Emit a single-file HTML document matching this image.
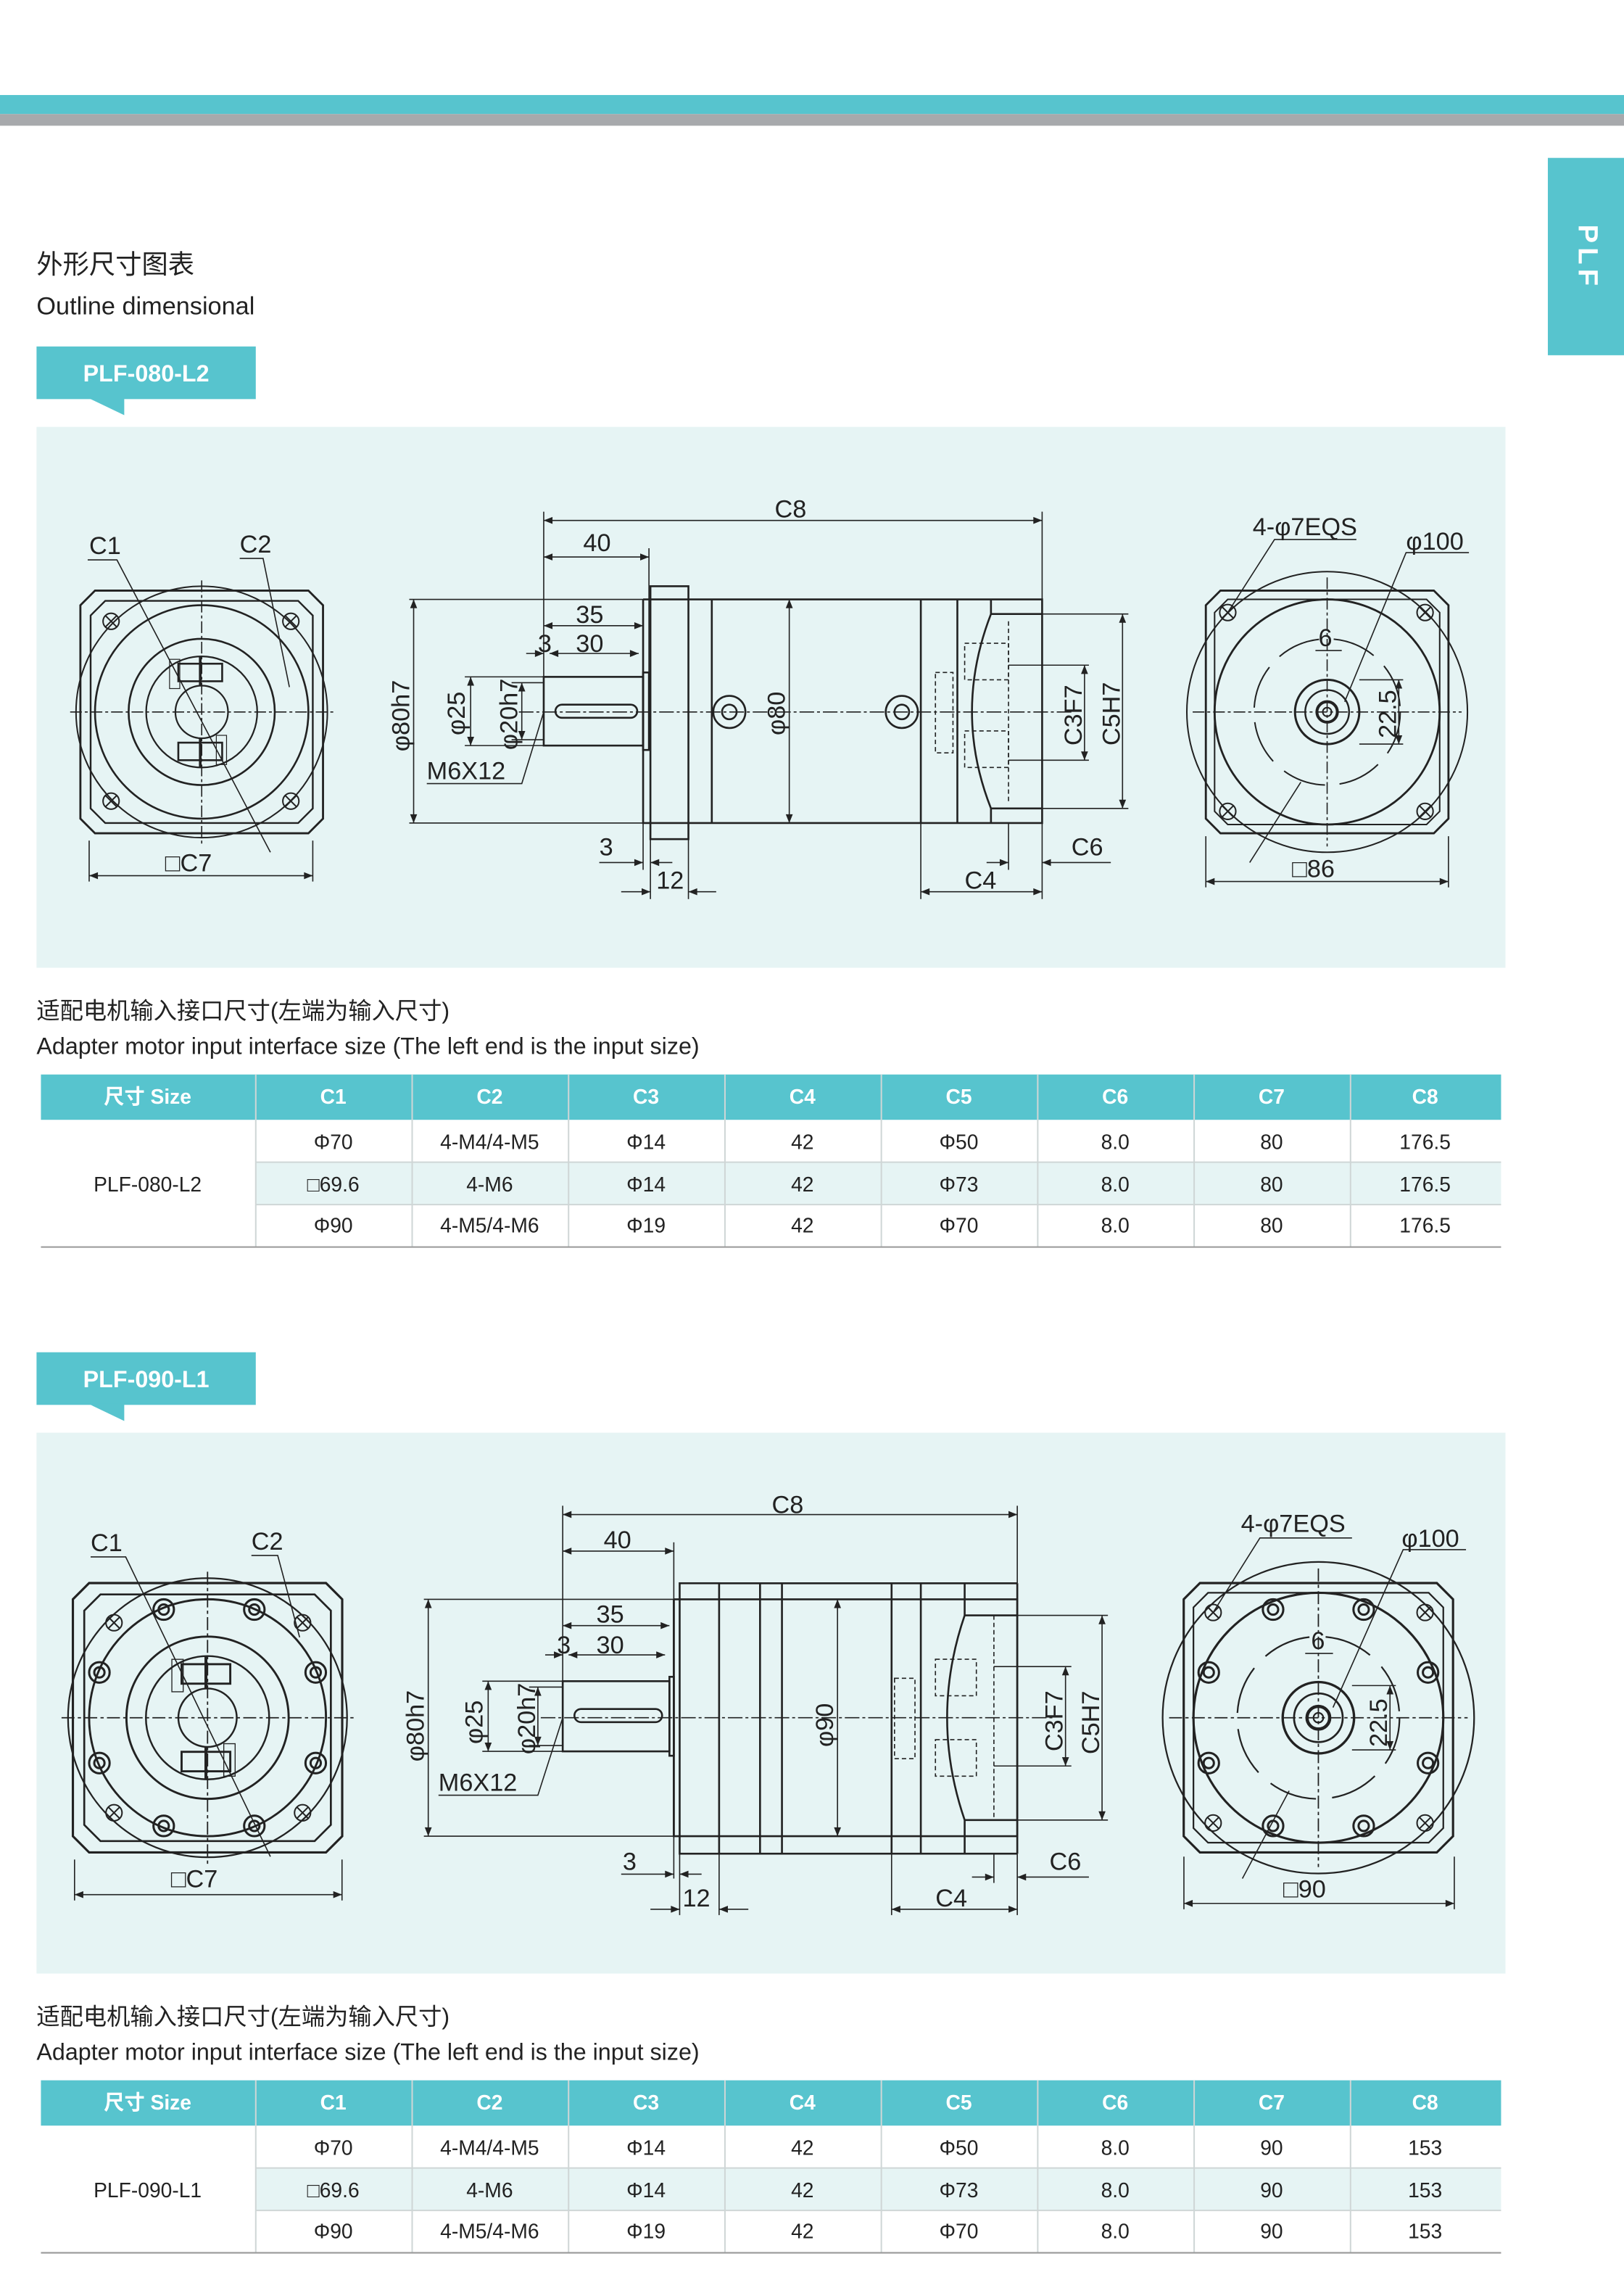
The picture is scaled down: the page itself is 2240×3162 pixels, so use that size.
<!DOCTYPE html>
<html><head><meta charset="utf-8"><style>
html,body{margin:0;padding:0;background:#fff;}
svg{display:block;}
text{font-family:"Liberation Sans","Noto Sans CJK SC",sans-serif;}
</style></head><body>
<svg width="2240" height="3162" viewBox="0 0 1111.1 1568.5" preserveAspectRatio="none" xmlns="http://www.w3.org/2000/svg">
<defs>
<marker id="a" viewBox="0 0 10 10" refX="10" refY="5" markerWidth="9" markerHeight="6" markerUnits="userSpaceOnUse" orient="auto-start-reverse"><path d="M0,1 L10,5 L0,9z" fill="#222"/></marker>
<g id="lv" fill="none" stroke="#222">
<polygon points="-83,-73 -73,-83 73,-83 83,-73 83,73 73,83 -73,83 -83,73" stroke-width="1.4"/>
<polygon points="-76,-66 -66,-76 66,-76 76,-66 76,66 66,76 -66,76 -76,66" stroke-width="1.2"/>
<circle r="86" stroke-width="1"/><circle r="73" stroke-width="1.3"/><circle r="50" stroke-width="1.3"/><circle r="38" stroke-width="1.1"/><circle r="18" stroke-width="1.1"/>
<rect x="-16" y="-33" width="30" height="12" stroke-width="1.3"/><rect x="-16" y="21" width="30" height="12" stroke-width="1.3"/>
<line x1="-1" y1="-38" x2="-1" y2="-18" stroke-width="1.8"/><line x1="-1" y1="18" x2="-1" y2="38" stroke-width="1.8"/>
<rect x="-22" y="-36" width="7" height="20" stroke-width="0.6"/><rect x="10" y="16" width="7" height="20" stroke-width="0.6"/>
<line x1="-90" y1="0" x2="90" y2="0" stroke-width="0.8" stroke-dasharray="8 2 2 2"/><line x1="0" y1="-90" x2="0" y2="90" stroke-width="0.8" stroke-dasharray="8 2 2 2"/>
</g>
<g id="rv" fill="none" stroke="#222">
<polygon points="-83,-73 -73,-83 73,-83 83,-73 83,73 73,83 -73,83 -83,73" stroke-width="1.4"/>
<polygon points="-77,-68 -68,-77 68,-77 77,-68 77,68 68,77 -68,77 -77,68" stroke-width="1"/>
<circle r="96" stroke-width="1"/><circle r="77" stroke-width="1.4"/>
<circle r="50" stroke-width="1" stroke-dasharray="30 10"/>
<circle r="22" stroke-width="1.5"/><circle r="15" stroke-width="1.2"/><circle r="7" stroke-width="2"/><circle r="3" stroke-width="1"/>
<line x1="-92" y1="0" x2="92" y2="0" stroke-width="0.8" stroke-dasharray="8 2 2 2"/><line x1="0" y1="-92" x2="0" y2="92" stroke-width="0.8" stroke-dasharray="8 2 2 2"/>
</g>
<g id="hx" fill="none" stroke="#222" stroke-width="1"><circle r="5.5"/><line x1="-4" y1="-4" x2="4" y2="4"/><line x1="-4" y1="4" x2="4" y2="-4"/></g>
</defs>

<!-- header bars -->
<rect x="0" y="65" width="1111.1" height="13" fill="#57c4ce"/>
<rect x="0" y="78" width="1111.1" height="8" fill="#a7a9ac"/>
<rect x="1059" y="108" width="52.1" height="135" fill="#57c4ce"/>
<text x="1085" y="176" transform="rotate(90 1085 176)" text-anchor="middle" dominant-baseline="middle" fill="#fff" font-weight="bold" font-size="19" letter-spacing="3">PLF</text>

<text x="25" y="187" font-size="18" fill="#222">外形尺寸图表</text>
<text x="25" y="215" font-size="17" fill="#222">Outline dimensional</text>

<!-- ===== Section 1 ===== -->
<rect x="25" y="237" width="150" height="36" fill="#57c4ce"/><polygon points="60,272 85,284 85,272" fill="#57c4ce"/>
<text x="100" y="261" text-anchor="middle" font-size="16" font-weight="bold" fill="#fff">PLF-080-L2</text>
<rect x="25" y="292" width="1005" height="370" fill="#e6f4f4"/>

<g>
<use href="#lv" transform="translate(138,487)"/>
<use href="#hx" transform="translate(76,425)"/><use href="#hx" transform="translate(199,425)"/><use href="#hx" transform="translate(76,548)"/><use href="#hx" transform="translate(199,548)"/>
<g stroke="#222" stroke-width="0.8" fill="none">
<polyline points="60,383 80,383 185,583"/><polyline points="164,382 180,382 198,470"/>
<line x1="61" y1="575" x2="61" y2="603"/><line x1="214" y1="575" x2="214" y2="603"/>
<line x1="61" y1="599" x2="214" y2="599" marker-start="url(#a)" marker-end="url(#a)"/>
</g>
<text x="61" y="379" font-size="17" fill="#222">C1</text><text x="164" y="378" font-size="17" fill="#222">C2</text>
<text x="113" y="596" font-size="17" fill="#222">□C7</text>

<!-- side view -->
<g stroke="#222" fill="none" stroke-width="1.3">
<rect x="372" y="463" width="68" height="47"/><rect x="380" y="482" width="56" height="9" rx="4.5"/>
<rect x="440" y="460" width="4" height="53"/>
<rect x="445" y="401" width="26" height="173"/>
<polyline points="440,410 713,410 713,563 440,563 440,410"/>
<line x1="487" y1="410" x2="487" y2="563"/><line x1="630" y1="410" x2="630" y2="563"/><line x1="655" y1="410" x2="655" y2="563"/>
<path d="M678,410 L678,420 Q652,487 678,553 L678,563"/>
<line x1="678" y1="420" x2="713" y2="420"/><line x1="678" y1="553" x2="713" y2="553"/>
<circle cx="499" cy="487" r="11"/><circle cx="499" cy="487" r="5"/><circle cx="617" cy="487" r="11"/><circle cx="617" cy="487" r="5"/>
</g>
<g stroke="#222" fill="none" stroke-width="0.8" stroke-dasharray="3 2">
<rect x="660" y="440" width="30" height="25"/><rect x="660" y="500" width="30" height="25"/>
<rect x="640" y="460" width="12" height="55"/><line x1="690" y1="425" x2="690" y2="550"/>
</g>
<line x1="355" y1="487" x2="735" y2="487" stroke="#222" stroke-width="0.8" stroke-dasharray="10 2 2 2"/>
<g stroke="#222" stroke-width="0.8" fill="none">
<line x1="372" y1="350" x2="372" y2="463"/><line x1="713" y1="350" x2="713" y2="410"/>
<line x1="372" y1="356" x2="713" y2="356" marker-start="url(#a)" marker-end="url(#a)"/>
<line x1="444" y1="375" x2="444" y2="460"/>
<line x1="372" y1="381" x2="444" y2="381" marker-start="url(#a)" marker-end="url(#a)"/>
<line x1="372" y1="428" x2="440" y2="428" marker-start="url(#a)" marker-end="url(#a)"/>
<line x1="360" y1="447" x2="372" y2="447" marker-end="url(#a)"/><line x1="376" y1="447" x2="437" y2="447" marker-start="url(#a)" marker-end="url(#a)"/>
<line x1="280" y1="410" x2="440" y2="410"/><line x1="280" y1="563" x2="445" y2="563"/>
<line x1="283" y1="410" x2="283" y2="563" marker-start="url(#a)" marker-end="url(#a)"/>
<line x1="318" y1="463" x2="372" y2="463"/><line x1="318" y1="510" x2="372" y2="510"/>
<line x1="322" y1="463" x2="322" y2="510" marker-start="url(#a)" marker-end="url(#a)"/>
<line x1="350" y1="467" x2="372" y2="467"/><line x1="350" y1="506" x2="372" y2="506"/>
<line x1="357" y1="467" x2="357" y2="506" marker-start="url(#a)" marker-end="url(#a)"/>
<polyline points="292,536 357,536 372,487"/>
<line x1="540" y1="410" x2="540" y2="563" marker-start="url(#a)" marker-end="url(#a)"/>
<line x1="713" y1="420" x2="772" y2="420"/><line x1="713" y1="553" x2="772" y2="553"/>
<line x1="690" y1="455" x2="745" y2="455"/><line x1="690" y1="520" x2="745" y2="520"/>
<line x1="742" y1="455" x2="742" y2="520" marker-start="url(#a)" marker-end="url(#a)"/>
<line x1="768" y1="420" x2="768" y2="553" marker-start="url(#a)" marker-end="url(#a)"/>
<line x1="440" y1="563" x2="440" y2="595"/><line x1="445" y1="574" x2="445" y2="615"/><line x1="471" y1="574" x2="471" y2="615"/>
<line x1="410" y1="590" x2="440" y2="590" marker-end="url(#a)"/><line x1="460" y1="590" x2="445" y2="590" marker-end="url(#a)"/>
<line x1="425" y1="610" x2="445" y2="610" marker-end="url(#a)"/><line x1="490" y1="610" x2="471" y2="610" marker-end="url(#a)"/>
<line x1="630" y1="563" x2="630" y2="615"/><line x1="713" y1="563" x2="713" y2="615"/><line x1="690" y1="563" x2="690" y2="595"/>
<line x1="630" y1="610" x2="713" y2="610" marker-start="url(#a)" marker-end="url(#a)"/>
<line x1="675" y1="590" x2="690" y2="590" marker-end="url(#a)"/><line x1="760" y1="590" x2="713" y2="590" marker-end="url(#a)"/>
</g>
<g font-size="17" fill="#222">
<text x="530" y="354">C8</text><text x="399" y="377">40</text><text x="394" y="426">35</text><text x="368" y="446">3</text><text x="394" y="446">30</text>
<text x="410" y="585">3</text><text x="449" y="608">12</text><text x="660" y="608">C4</text><text x="733" y="585">C6</text>
<text x="292" y="533">M6X12</text>
<text transform="translate(280,514) rotate(-90)">φ80h7</text>
<text transform="translate(318,503) rotate(-90)">φ25</text>
<text transform="translate(354,513) rotate(-90)">φ20h7</text>
<text transform="translate(537,503) rotate(-90)">φ80</text>
<text transform="translate(740,510) rotate(-90)">C3F7</text>
<text transform="translate(766,510) rotate(-90)">C5H7</text>
</g>

<!-- right view -->
<use href="#rv" transform="translate(908,487)"/>
<use href="#hx" transform="translate(840,419)"/><use href="#hx" transform="translate(975,419)"/><use href="#hx" transform="translate(840,555)"/><use href="#hx" transform="translate(975,555)"/>
<g stroke="#222" stroke-width="0.8" fill="none">
<polyline points="928,369 872,369 840,419"/><polyline points="1005,378 962,378 920,480"/>
<line x1="855" y1="590" x2="890" y2="535"/>
<line x1="900" y1="445" x2="918" y2="445"/>
<line x1="930" y1="465" x2="960" y2="465"/><line x1="930" y1="509" x2="960" y2="509"/>
<line x1="957" y1="465" x2="957" y2="509" marker-start="url(#a)" marker-end="url(#a)"/>
<line x1="825" y1="572" x2="825" y2="607"/><line x1="991" y1="572" x2="991" y2="607"/>
<line x1="825" y1="603" x2="991" y2="603" marker-start="url(#a)" marker-end="url(#a)"/>
</g>
<g font-size="17" fill="#222">
<text x="857" y="366">4-φ7EQS</text><text x="962" y="376">φ100</text><text x="902" y="442">6</text>
<text transform="translate(955,505) rotate(-90)">22.5</text><text x="884" y="600">□86</text>
</g>
</g>

<text x="25" y="697" font-size="16" fill="#222">适配电机输入接口尺寸(左端为输入尺寸)</text>
<text x="25" y="721" font-size="16" fill="#222">Adapter motor input interface size (The left end is the input size)</text>

<!-- table 1 -->
<g>
<rect x="28" y="735" width="999" height="31" fill="#57c4ce"/>
<rect x="175" y="795" width="852" height="29" fill="#e6f4f4"/>
<g stroke="#cfd6d6" stroke-width="1">
<line x1="175" y1="795" x2="1027" y2="795"/><line x1="175" y1="824" x2="1027" y2="824"/>
<line x1="175" y1="735" x2="175" y2="853"/><line x1="282" y1="735" x2="282" y2="853"/><line x1="389" y1="735" x2="389" y2="853"/><line x1="496" y1="735" x2="496" y2="853"/><line x1="603" y1="735" x2="603" y2="853"/><line x1="710" y1="735" x2="710" y2="853"/><line x1="817" y1="735" x2="817" y2="853"/><line x1="924" y1="735" x2="924" y2="853"/>
</g>
<line x1="28" y1="853" x2="1027" y2="853" stroke="#999" stroke-width="1"/>
<g font-size="14" fill="#fff" font-weight="bold" text-anchor="middle">
<text x="101" y="755">尺寸 Size</text><text x="228" y="755">C1</text><text x="335" y="755">C2</text><text x="442" y="755">C3</text><text x="549" y="755">C4</text><text x="656" y="755">C5</text><text x="763" y="755">C6</text><text x="870" y="755">C7</text><text x="975" y="755">C8</text>
</g>
<g font-size="14" fill="#222" text-anchor="middle">
<text x="101" y="815">PLF-080-L2</text>
<text x="228" y="786">Φ70</text><text x="335" y="786">4-M4/4-M5</text><text x="442" y="786">Φ14</text><text x="549" y="786">42</text><text x="656" y="786">Φ50</text><text x="763" y="786">8.0</text><text x="870" y="786">80</text><text x="975" y="786">176.5</text>
<text x="228" y="815">□69.6</text><text x="335" y="815">4-M6</text><text x="442" y="815">Φ14</text><text x="549" y="815">42</text><text x="656" y="815">Φ73</text><text x="763" y="815">8.0</text><text x="870" y="815">80</text><text x="975" y="815">176.5</text>
<text x="228" y="843">Φ90</text><text x="335" y="843">4-M5/4-M6</text><text x="442" y="843">Φ19</text><text x="549" y="843">42</text><text x="656" y="843">Φ70</text><text x="763" y="843">8.0</text><text x="870" y="843">80</text><text x="975" y="843">176.5</text>
</g>
</g>

<!-- ===== Section 2 ===== -->
<rect x="25" y="925" width="150" height="36" fill="#57c4ce"/><polygon points="60,960 85,972 85,960" fill="#57c4ce"/>
<text x="100" y="949" text-anchor="middle" font-size="16" font-weight="bold" fill="#fff">PLF-090-L1</text>
<rect x="25" y="980" width="1005" height="370" fill="#e6f4f4"/>

<g>
<use href="#lv" transform="translate(142,1175) scale(1.11)"/>
<g fill="none" stroke="#222" stroke-width="1.5">
<circle cx="112" cy="1101" r="7"/><circle cx="174" cy="1101" r="7"/><circle cx="68" cy="1144" r="7"/><circle cx="216" cy="1144" r="7"/><circle cx="68" cy="1206" r="7"/><circle cx="216" cy="1206" r="7"/><circle cx="112" cy="1249" r="7"/><circle cx="174" cy="1249" r="7"/>
<circle cx="112" cy="1101" r="3.5"/><circle cx="174" cy="1101" r="3.5"/><circle cx="68" cy="1144" r="3.5"/><circle cx="216" cy="1144" r="3.5"/><circle cx="68" cy="1206" r="3.5"/><circle cx="216" cy="1206" r="3.5"/><circle cx="112" cy="1249" r="3.5"/><circle cx="174" cy="1249" r="3.5"/>
</g>
<use href="#hx" transform="translate(78,1110)"/><use href="#hx" transform="translate(207,1110)"/><use href="#hx" transform="translate(78,1240)"/><use href="#hx" transform="translate(207,1240)"/>
<g stroke="#222" stroke-width="0.8" fill="none">
<polyline points="62,1065 86,1065 185,1270"/><polyline points="172,1064 190,1064 205,1120"/>
<line x1="51" y1="1272" x2="51" y2="1300"/><line x1="234" y1="1272" x2="234" y2="1300"/>
<line x1="51" y1="1296" x2="234" y2="1296" marker-start="url(#a)" marker-end="url(#a)"/>
</g>
<text x="62" y="1061" font-size="17" fill="#222">C1</text><text x="172" y="1060" font-size="17" fill="#222">C2</text>
<text x="117" y="1291" font-size="17" fill="#222">□C7</text>

<g stroke="#222" fill="none" stroke-width="1.3">
<rect x="385" y="1150" width="73" height="48"/><rect x="393" y="1169" width="60" height="9" rx="4.5"/>
<rect x="458" y="1147" width="3" height="54"/>
<rect x="465" y="1083" width="27" height="185"/>
<polyline points="461,1094 696,1094 696,1256 461,1256 461,1094"/><line x1="461" y1="1094" x2="461" y2="1256"/>
<line x1="520" y1="1083" x2="520" y2="1268"/><line x1="535" y1="1083" x2="535" y2="1268"/><line x1="492" y1="1083" x2="696" y2="1083"/><line x1="492" y1="1268" x2="696" y2="1268"/><line x1="696" y1="1083" x2="696" y2="1268"/>
<line x1="610" y1="1083" x2="610" y2="1268"/><line x1="630" y1="1083" x2="630" y2="1268"/>
<path d="M660,1083 L660,1105 Q636,1175 660,1245 L660,1268"/>
<line x1="660" y1="1105" x2="696" y2="1105"/><line x1="660" y1="1245" x2="696" y2="1245"/>
</g>
<g stroke="#222" fill="none" stroke-width="0.8" stroke-dasharray="3 2">
<rect x="640" y="1135" width="28" height="25"/><rect x="640" y="1190" width="28" height="25"/>
<rect x="612" y="1148" width="14" height="55"/><line x1="680" y1="1105" x2="680" y2="1245"/>
</g>
<line x1="370" y1="1175" x2="720" y2="1175" stroke="#222" stroke-width="0.8" stroke-dasharray="10 2 2 2"/>
<g stroke="#222" stroke-width="0.8" fill="none">
<line x1="385" y1="1030" x2="385" y2="1150"/><line x1="696" y1="1030" x2="696" y2="1083"/>
<line x1="385" y1="1036" x2="696" y2="1036" marker-start="url(#a)" marker-end="url(#a)"/>
<line x1="461" y1="1055" x2="461" y2="1094"/>
<line x1="385" y1="1061" x2="461" y2="1061" marker-start="url(#a)" marker-end="url(#a)"/>
<line x1="385" y1="1112" x2="458" y2="1112" marker-start="url(#a)" marker-end="url(#a)"/>
<line x1="373" y1="1132" x2="385" y2="1132" marker-end="url(#a)"/><line x1="389" y1="1132" x2="455" y2="1132" marker-start="url(#a)" marker-end="url(#a)"/>
<line x1="290" y1="1094" x2="461" y2="1094"/><line x1="290" y1="1256" x2="461" y2="1256"/>
<line x1="293" y1="1094" x2="293" y2="1256" marker-start="url(#a)" marker-end="url(#a)"/>
<line x1="330" y1="1150" x2="385" y2="1150"/><line x1="330" y1="1198" x2="385" y2="1198"/>
<line x1="334" y1="1150" x2="334" y2="1198" marker-start="url(#a)" marker-end="url(#a)"/>
<line x1="362" y1="1154" x2="385" y2="1154"/><line x1="362" y1="1194" x2="385" y2="1194"/>
<line x1="368" y1="1154" x2="368" y2="1194" marker-start="url(#a)" marker-end="url(#a)"/>
<polyline points="300,1228 368,1228 385,1175"/>
<line x1="573" y1="1094" x2="573" y2="1256" marker-start="url(#a)" marker-end="url(#a)"/>
<line x1="696" y1="1105" x2="758" y2="1105"/><line x1="696" y1="1245" x2="758" y2="1245"/>
<line x1="680" y1="1140" x2="733" y2="1140"/><line x1="680" y1="1208" x2="733" y2="1208"/>
<line x1="729" y1="1140" x2="729" y2="1208" marker-start="url(#a)" marker-end="url(#a)"/>
<line x1="754" y1="1105" x2="754" y2="1245" marker-start="url(#a)" marker-end="url(#a)"/>
<line x1="461" y1="1256" x2="461" y2="1285"/><line x1="465" y1="1268" x2="465" y2="1310"/><line x1="492" y1="1268" x2="492" y2="1310"/>
<line x1="425" y1="1282" x2="461" y2="1282" marker-end="url(#a)"/><line x1="480" y1="1282" x2="465" y2="1282" marker-end="url(#a)"/>
<line x1="445" y1="1306" x2="465" y2="1306" marker-end="url(#a)"/><line x1="512" y1="1306" x2="492" y2="1306" marker-end="url(#a)"/>
<line x1="610" y1="1268" x2="610" y2="1310"/><line x1="696" y1="1268" x2="696" y2="1310"/><line x1="680" y1="1268" x2="680" y2="1288"/>
<line x1="610" y1="1306" x2="696" y2="1306" marker-start="url(#a)" marker-end="url(#a)"/>
<line x1="665" y1="1284" x2="680" y2="1284" marker-end="url(#a)"/><line x1="745" y1="1284" x2="696" y2="1284" marker-end="url(#a)"/>
</g>
<g font-size="17" fill="#222">
<text x="528" y="1035">C8</text><text x="413" y="1059">40</text><text x="408" y="1110">35</text><text x="381" y="1131">3</text><text x="408" y="1131">30</text>
<text x="426" y="1279">3</text><text x="467" y="1304">12</text><text x="640" y="1304">C4</text><text x="718" y="1279">C6</text>
<text x="300" y="1225">M6X12</text>
<text transform="translate(290,1205) rotate(-90)">φ80h7</text>
<text transform="translate(330,1193) rotate(-90)">φ25</text>
<text transform="translate(366,1200) rotate(-90)">φ20h7</text>
<text transform="translate(570,1195) rotate(-90)">φ90</text>
<text transform="translate(727,1198) rotate(-90)">C3F7</text>
<text transform="translate(752,1200) rotate(-90)">C5H7</text>
</g>

<use href="#rv" transform="translate(902,1175) scale(1.11)"/>
<g fill="none" stroke="#222" stroke-width="1.5">
<circle cx="871" cy="1101" r="7"/><circle cx="933" cy="1101" r="7"/><circle cx="827" cy="1144" r="7"/><circle cx="977" cy="1144" r="7"/><circle cx="827" cy="1206" r="7"/><circle cx="977" cy="1206" r="7"/><circle cx="871" cy="1249" r="7"/><circle cx="933" cy="1249" r="7"/>
<circle cx="871" cy="1101" r="3.5"/><circle cx="933" cy="1101" r="3.5"/><circle cx="827" cy="1144" r="3.5"/><circle cx="977" cy="1144" r="3.5"/><circle cx="827" cy="1206" r="3.5"/><circle cx="977" cy="1206" r="3.5"/><circle cx="871" cy="1249" r="3.5"/><circle cx="933" cy="1249" r="3.5"/>
</g>
<use href="#hx" transform="translate(830,1103)"/><use href="#hx" transform="translate(975,1103)"/><use href="#hx" transform="translate(830,1247)"/><use href="#hx" transform="translate(975,1247)"/>
<g stroke="#222" stroke-width="0.8" fill="none">
<polyline points="925,1052 862,1052 830,1103"/><polyline points="1003,1060 960,1060 912,1168"/>
<line x1="850" y1="1285" x2="882" y2="1225"/>
<line x1="893" y1="1131" x2="912" y2="1131"/>
<line x1="925" y1="1153" x2="955" y2="1153"/><line x1="925" y1="1197" x2="955" y2="1197"/>
<line x1="951" y1="1153" x2="951" y2="1197" marker-start="url(#a)" marker-end="url(#a)"/>
<line x1="810" y1="1270" x2="810" y2="1306"/><line x1="995" y1="1270" x2="995" y2="1306"/>
<line x1="810" y1="1302" x2="995" y2="1302" marker-start="url(#a)" marker-end="url(#a)"/>
</g>
<g font-size="17" fill="#222">
<text x="849" y="1048">4-φ7EQS</text><text x="959" y="1058">φ100</text><text x="897" y="1128">6</text>
<text transform="translate(949,1195) rotate(-90)">22.5</text><text x="878" y="1298">□90</text>
</g>
</g>

<text x="25" y="1385" font-size="16" fill="#222">适配电机输入接口尺寸(左端为输入尺寸)</text>
<text x="25" y="1409" font-size="16" fill="#222">Adapter motor input interface size (The left end is the input size)</text>

<!-- table 2 -->
<g>
<rect x="28" y="1423" width="999" height="31" fill="#57c4ce"/>
<rect x="175" y="1483" width="852" height="29" fill="#e6f4f4"/>
<g stroke="#cfd6d6" stroke-width="1">
<line x1="175" y1="1483" x2="1027" y2="1483"/><line x1="175" y1="1512" x2="1027" y2="1512"/>
<line x1="175" y1="1423" x2="175" y2="1541"/><line x1="282" y1="1423" x2="282" y2="1541"/><line x1="389" y1="1423" x2="389" y2="1541"/><line x1="496" y1="1423" x2="496" y2="1541"/><line x1="603" y1="1423" x2="603" y2="1541"/><line x1="710" y1="1423" x2="710" y2="1541"/><line x1="817" y1="1423" x2="817" y2="1541"/><line x1="924" y1="1423" x2="924" y2="1541"/>
</g>
<line x1="28" y1="1541" x2="1027" y2="1541" stroke="#999" stroke-width="1"/>
<g font-size="14" fill="#fff" font-weight="bold" text-anchor="middle">
<text x="101" y="1443">尺寸 Size</text><text x="228" y="1443">C1</text><text x="335" y="1443">C2</text><text x="442" y="1443">C3</text><text x="549" y="1443">C4</text><text x="656" y="1443">C5</text><text x="763" y="1443">C6</text><text x="870" y="1443">C7</text><text x="975" y="1443">C8</text>
</g>
<g font-size="14" fill="#222" text-anchor="middle">
<text x="101" y="1503">PLF-090-L1</text>
<text x="228" y="1474">Φ70</text><text x="335" y="1474">4-M4/4-M5</text><text x="442" y="1474">Φ14</text><text x="549" y="1474">42</text><text x="656" y="1474">Φ50</text><text x="763" y="1474">8.0</text><text x="870" y="1474">90</text><text x="975" y="1474">153</text>
<text x="228" y="1503">□69.6</text><text x="335" y="1503">4-M6</text><text x="442" y="1503">Φ14</text><text x="549" y="1503">42</text><text x="656" y="1503">Φ73</text><text x="763" y="1503">8.0</text><text x="870" y="1503">90</text><text x="975" y="1503">153</text>
<text x="228" y="1531">Φ90</text><text x="335" y="1531">4-M5/4-M6</text><text x="442" y="1531">Φ19</text><text x="549" y="1531">42</text><text x="656" y="1531">Φ70</text><text x="763" y="1531">8.0</text><text x="870" y="1531">90</text><text x="975" y="1531">153</text>
</g>
</g>
</svg>
</body></html>
